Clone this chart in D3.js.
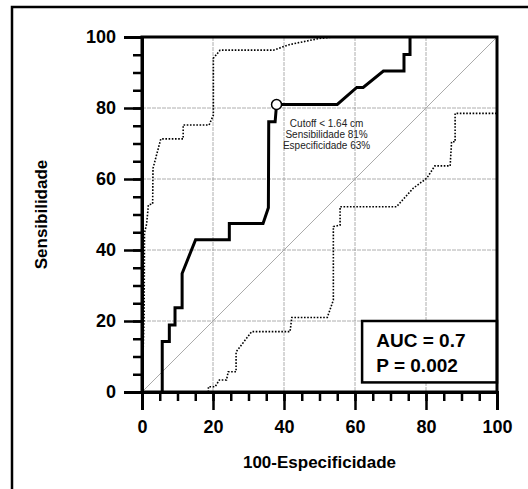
<!DOCTYPE html>
<html>
<head>
  <title>Curva ROC</title>
  <script src="https://d3js.org/d3.v7.min.js"></script>
  <style>
    body { margin: 0; background: #fff; }
    text { font-family: "Liberation Sans", Arial, sans-serif; }
  </style>
</head>
<body>
  <div id="chart"></div>

  <script>
    // ROC curve (100-Especificidade, Sensibilidade)
    const rocCurve = [
      [5.7, 0], [5.7, 14.2], [7.7, 14.2], [7.7, 18.9], [9.3, 18.9], [9.3, 23.7],
      [11.3, 23.7], [11.3, 33.4], [15.1, 42.9], [24.6, 42.9], [24.6, 47.5],
      [34.1, 47.5], [35.6, 51.9], [35.7, 76.1], [37.5, 76.1], [37.9, 81.0],
      [55.0, 81.0], [60.5, 85.8], [62.3, 85.8], [68.0, 90.4], [73.8, 90.4],
      [73.8, 95.1], [75.5, 95.1], [75.5, 100]
    ];
    // upper confidence band
    const upperBand = [
      [0, 0], [0.6, 21.4], [0.7, 44.8], [1.3, 47.3], [1.8, 52.7], [3.0, 53.0],
      [3.1, 63.0], [5.3, 71.3], [11.6, 71.3], [11.6, 75.2], [18.9, 75.2],
      [20.1, 78.0], [20.1, 94.0], [22.0, 96.3], [37.0, 96.3], [41.7, 97.9],
      [50.0, 99.6], [54.0, 100], [100, 100]
    ];
    // lower confidence band
    const lowerBand = [
      [18.7, 0], [18.7, 1.5], [20.6, 1.5], [21.8, 3.4], [23.8, 3.4], [24.3, 5.7],
      [26.5, 5.7], [26.5, 11.3], [30.9, 17.0], [41.7, 17.0], [42.2, 21.0],
      [52.2, 21.0], [53.9, 25.9], [53.9, 46.6], [55.8, 47.0], [55.8, 52.2],
      [71.7, 52.2], [76.4, 57.4], [80.2, 60.2], [82.5, 63.7], [86.8, 63.7],
      [87.2, 70.5], [88.2, 70.5], [88.2, 78.5], [100, 78.5]
    ];
    const cutoff = [37.9, 81.0];
    const cutoffLabels = ["Cutoff < 1.64 cm", "Sensibilidade 81%", "Especificidade 63%"];
    const statsLabels = ["AUC = 0.7", "P = 0.002"];
    const majorTicks = [0, 20, 40, 60, 80, 100];
    const gridTicks = [20, 40, 60, 80];
    const minorTicks = d3.range(0, 101, 5);

    const width = 528, height = 489;
    const margin = { top: 37, left: 142 };
    const size = 355;

    const svg = d3.select("#chart")
      .append("svg")
      .attr("width", width)
      .attr("height", height);

    // outer frame
    svg.append("rect")
      .attr("x", 12).attr("y", 7)
      .attr("width", 700).attr("height", 700)
      .attr("fill", "none")
      .attr("stroke", "#000")
      .attr("stroke-width", 2.5);

    const g = svg.append("g")
      .attr("transform", "translate(" + margin.left + "," + margin.top + ")");

    const x = d3.scaleLinear().domain([0, 100]).range([0, size]);
    const y = d3.scaleLinear().domain([0, 100]).range([size, 0]);

    // grid
    g.selectAll(".gx").data(gridTicks).enter().append("line")
      .attr("x1", d => x(d)).attr("x2", d => x(d))
      .attr("y1", 0).attr("y2", size)
      .attr("stroke", "#999").attr("stroke-width", 0.8)
      .attr("stroke-dasharray", "4,1");
    g.selectAll(".gy").data(gridTicks).enter().append("line")
      .attr("y1", d => y(d)).attr("y2", d => y(d))
      .attr("x1", 0).attr("x2", size)
      .attr("stroke", "#999").attr("stroke-width", 0.8)
      .attr("stroke-dasharray", "4,1");

    // diagonal
    g.append("line")
      .attr("x1", x(0)).attr("y1", y(0))
      .attr("x2", x(100)).attr("y2", y(100))
      .attr("stroke", "#aaa").attr("stroke-width", 1);

    const line = d3.line().x(d => x(d[0])).y(d => y(d[1]));

    [upperBand, lowerBand].forEach(band => {
      g.append("path")
        .datum(band)
        .attr("d", line)
        .attr("fill", "none")
        .attr("stroke", "#000")
        .attr("stroke-width", 1.6)
        .attr("stroke-dasharray", "1.6,1.6");
    });

    g.append("path")
      .datum(rocCurve)
      .attr("d", line)
      .attr("fill", "none")
      .attr("stroke", "#000")
      .attr("stroke-width", 3)
      .attr("stroke-linejoin", "miter");

    g.append("circle")
      .attr("cx", x(cutoff[0])).attr("cy", y(cutoff[1]))
      .attr("r", 5)
      .attr("fill", "#fff")
      .attr("stroke", "#000")
      .attr("stroke-width", 1.5);

    g.selectAll(".cut").data(cutoffLabels).enter().append("text")
      .attr("x", x(52))
      .attr("y", (d, i) => y(cutoff[1]) + 23 + i * 11)
      .attr("text-anchor", "middle")
      .style("font-size", "10px")
      .attr("fill", "#222")
      .text(d => d);

    // stats box
    g.append("rect")
      .attr("x", x(62)).attr("y", y(20))
      .attr("width", x(100) - x(62)).attr("height", y(2.7) - y(20))
      .attr("fill", "#fff")
      .attr("stroke", "#000")
      .attr("stroke-width", 2.5);
    g.selectAll(".stat").data(statsLabels).enter().append("text")
      .attr("x", x(66))
      .attr("y", (d, i) => y(20) + 26 + i * 25)
      .style("font-size", "19px")
      .style("font-weight", "bold")
      .text(d => d);

    // plot border
    g.append("rect")
      .attr("width", size).attr("height", size)
      .attr("fill", "none")
      .attr("stroke", "#000")
      .attr("stroke-width", 3);

    // axes
    const xAxis = g.append("g")
      .attr("transform", "translate(0," + size + ")")
      .call(d3.axisBottom(x).tickValues(majorTicks).tickSize(18).tickPadding(10).tickFormat(d3.format("d")));
    xAxis.append("g").call(d3.axisBottom(x).tickValues(minorTicks).tickSize(9).tickFormat(""));

    const yAxis = g.append("g")
      .call(d3.axisLeft(y).tickValues(majorTicks).tickSize(18).tickPadding(8).tickFormat(d3.format("d")));
    yAxis.append("g").call(d3.axisLeft(y).tickValues(minorTicks).tickSize(9).tickFormat(""));

    g.selectAll(".domain").attr("stroke-width", 3);
    g.selectAll(".tick line").attr("stroke-width", 2.5).attr("stroke", "#000");
    g.selectAll(".tick text")
      .style("font-size", "18px")
      .style("font-weight", "bold")
      .style("font-family", "'Liberation Sans', Arial, sans-serif")
      .attr("fill", "#000");

    svg.append("text")
      .attr("x", margin.left + size / 2)
      .attr("y", 468)
      .attr("text-anchor", "middle")
      .style("font-size", "17px")
      .style("font-weight", "bold")
      .text("100-Especificidade");

    svg.append("text")
      .attr("transform", "translate(47," + (margin.top + size / 2) + ") rotate(-90)")
      .attr("text-anchor", "middle")
      .style("font-size", "17px")
      .style("font-weight", "bold")
      .text("Sensibilidade");
  </script>
</body>
</html>
